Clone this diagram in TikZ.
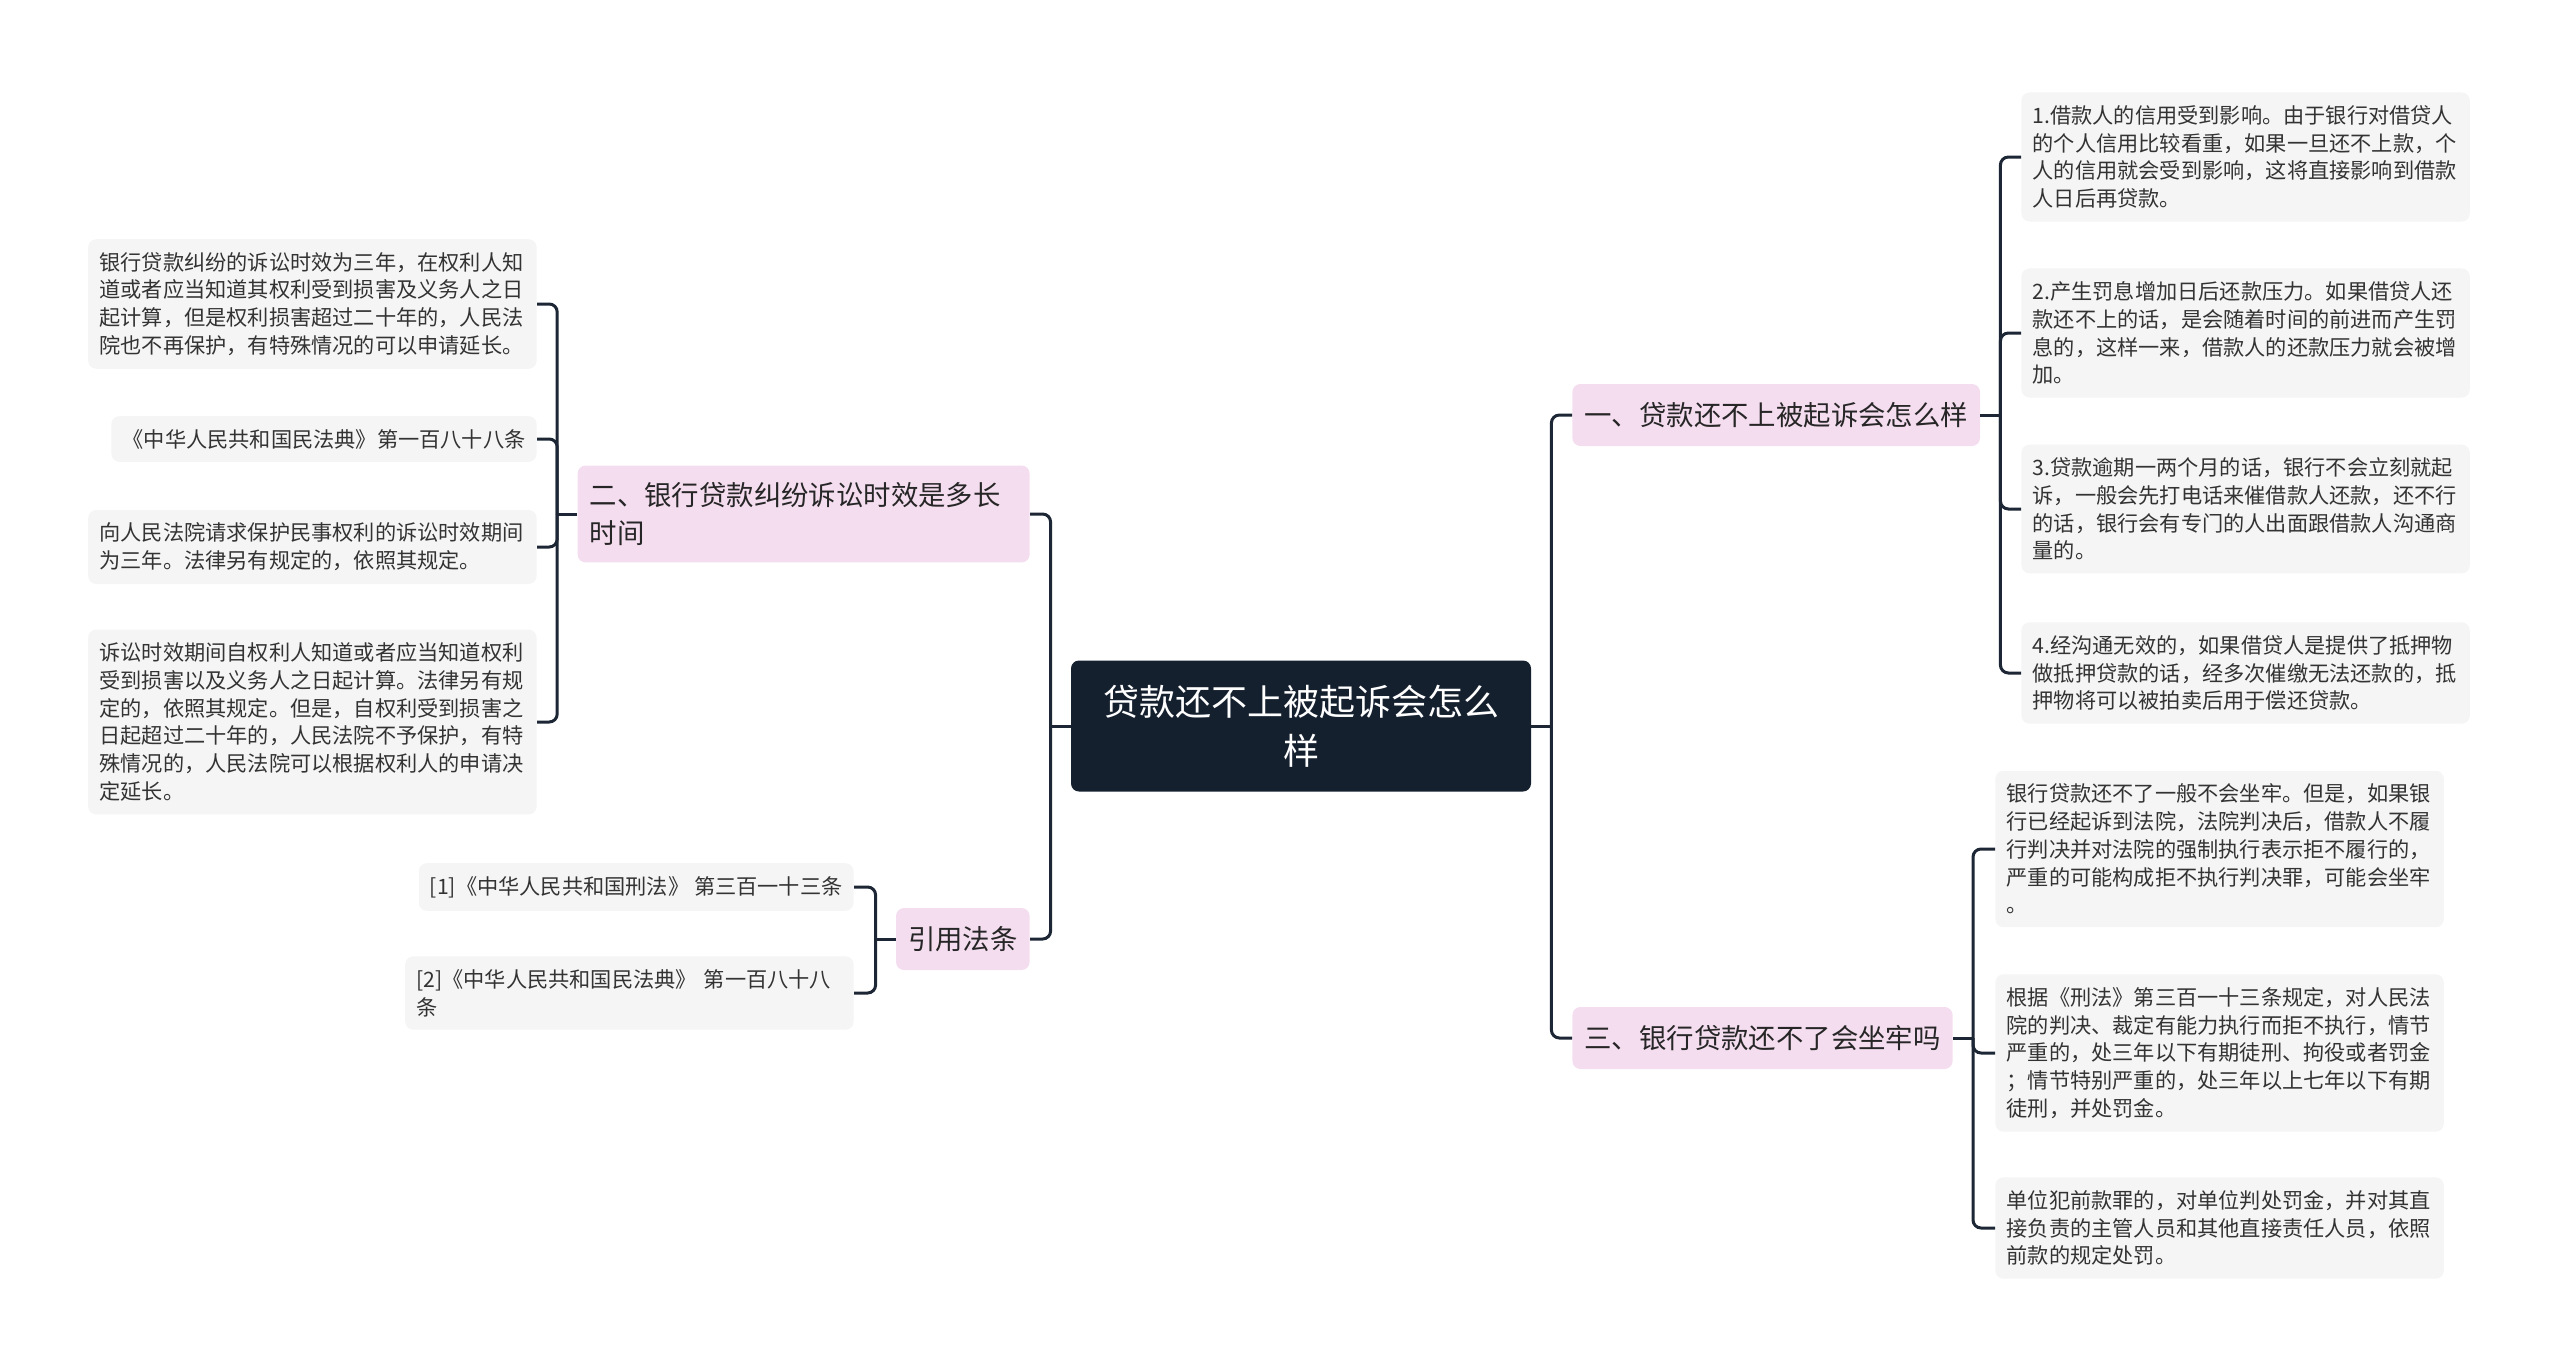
\documentclass[tikz,border=0pt]{standalone}
\usepackage{fontspec}
\setmainfont{Noto Sans CJK SC}
\usepackage{xcolor}
\usepackage{tikz}
\usetikzlibrary{positioning}
\definecolor{NavyDark}{RGB}{21,32,47}
\definecolor{PinkSoft}{RGB}{245,221,240}
\definecolor{GreyLeaf}{RGB}{245,245,245}
\definecolor{LineDark}{RGB}{28,38,52}

\begin{document}
\begin{tikzpicture}[x=0.5pt, y=-0.5pt,
	mainbox/.style={fill=NavyDark, text=white, rounded corners=4pt, align=center, text width=199pt, minimum width=230pt, minimum height=65.5pt, inner sep=11pt, font={\fontsize{18}{24.5}\selectfont}},
	topicbox/.style={fill=PinkSoft, text=black!85, rounded corners=4pt, align=left, inner xsep=6pt, inner ysep=8.5pt, minimum height=31pt, font={\fontsize{13.7}{18.8}\selectfont}},
	leafbase/.style={fill=GreyLeaf, text=black!80, rounded corners=4pt, align=left, inner xsep=5.6pt, inner ysep=6.5pt, font={\fontsize{10.6}{13.9}\selectfont}},
	leafbox/.style={leafbase, text width=213pt},
	link/.style={draw=LineDark, line width=1.5pt, rounded corners=4pt}]
		\useasboundingbox (0,0) rectangle (2560,1371);
		\node[mainbox] (root) at (1301,726) {贷款还不上被起诉会怎么\\样};
		\node[topicbox, anchor=west] (q1) at (1572,415) {一、贷款还不上被起诉会怎么样};
		\node[topicbox, anchor=west] (q3) at (1572,1038) {三、银行贷款还不了会坐牢吗};
		\node[topicbox, anchor=east, text width=214pt] (q2) at (1030,514) {二、银行贷款纠纷诉讼时效是多长\\时间};
		\node[topicbox, anchor=east] (law) at (1030,939) {引用法条};
		\node[leafbox, anchor=west] (q1a) at (2021,157) {1.借款人的信用受到影响。由于银行对借贷人\\的个人信用比较看重，如果一旦还不上款，个\\人的信用就会受到影响，这将直接影响到借款\\人日后再贷款。};
		\node[leafbox, anchor=west] (q1b) at (2021,333) {2.产生罚息增加日后还款压力。如果借贷人还\\款还不上的话，是会随着时间的前进而产生罚\\息的，这样一来，借款人的还款压力就会被增\\加。};
		\node[leafbox, anchor=west] (q1c) at (2021,509) {3.贷款逾期一两个月的话，银行不会立刻就起\\诉，一般会先打电话来催借款人还款，还不行\\的话，银行会有专门的人出面跟借款人沟通商\\量的。};
		\node[leafbox, anchor=west] (q1d) at (2021,673) {4.经沟通无效的，如果借贷人是提供了抵押物\\做抵押贷款的话，经多次催缴无法还款的，抵\\押物将可以被拍卖后用于偿还贷款。};
		\node[leafbox, anchor=west] (q3a) at (1995,849) {银行贷款还不了一般不会坐牢。但是，如果银\\行已经起诉到法院，法院判决后，借款人不履\\行判决并对法院的强制执行表示拒不履行的，\\严重的可能构成拒不执行判决罪，可能会坐牢\\。};
		\node[leafbox, anchor=west] (q3b) at (1995,1053) {根据《刑法》第三百一十三条规定，对人民法\\院的判决、裁定有能力执行而拒不执行，情节\\严重的，处三年以下有期徒刑、拘役或者罚金\\；情节特别严重的，处三年以上七年以下有期\\徒刑，并处罚金。};
		\node[leafbox, anchor=west] (q3c) at (1995,1228) {单位犯前款罪的，对单位判处罚金，并对其直\\接负责的主管人员和其他直接责任人员，依照\\前款的规定处罚。};
		\node[leafbox, anchor=east] (q2a) at (537,304) {银行贷款纠纷的诉讼时效为三年，在权利人知\\道或者应当知道其权利受到损害及义务人之日\\起计算，但是权利损害超过二十年的，人民法\\院也不再保护，有特殊情况的可以申请延长。};
		\node[leafbase, anchor=east] (q2b) at (537,439) {《中华人民共和国民法典》第一百八十八条};
		\node[leafbox, anchor=east] (q2c) at (537,547) {向人民法院请求保护民事权利的诉讼时效期间\\为三年。法律另有规定的，依照其规定。};
		\node[leafbox, anchor=east] (q2d) at (537,722) {诉讼时效期间自权利人知道或者应当知道权利\\受到损害以及义务人之日起计算。法律另有规\\定的，依照其规定。但是，自权利受到损害之\\日起超过二十年的，人民法院不予保护，有特\\殊情况的，人民法院可以根据权利人的申请决\\定延长。};
		\node[leafbase, anchor=east] (law1) at (854,887) {[1]《中华人民共和国刑法》 第三百一十三条};
		\node[leafbox, anchor=east] (law2) at (854,993) {[2]《中华人民共和国民法典》 第一百八十八\\条};
		\draw[link] (root.east) -- ++(20,0) coordinate (rt);
		\draw[link] (root.west) -- ++(-20,0) coordinate (lt);
		\draw[link] (rt) |- (q1.west);
		\draw[link] (rt) |- (q3.west);
		\draw[link] (lt) |- (q2.east);
		\draw[link] (lt) |- (law.east);
		\draw[link] (q1.east) -- ++(20,0) coordinate (q1t);
		\draw[link] (q3.east) -- ++(20,0) coordinate (q3t);
		\draw[link] (q2.west) -- ++(-20,0) coordinate (q2t);
		\draw[link] (law.west) -- ++(-20,0) coordinate (lawt);
		\foreach \c in {q1a,q1b,q1c,q1d} \draw[link] (q1t) |- (\c.west);
		\foreach \c in {q3a,q3b,q3c} \draw[link] (q3t) |- (\c.west);
		\foreach \c in {q2a,q2b,q2c,q2d} \draw[link] (q2t) |- (\c.east);
		\foreach \c in {law1,law2} \draw[link] (lawt) |- (\c.east);
	\end{tikzpicture}
\end{document}
